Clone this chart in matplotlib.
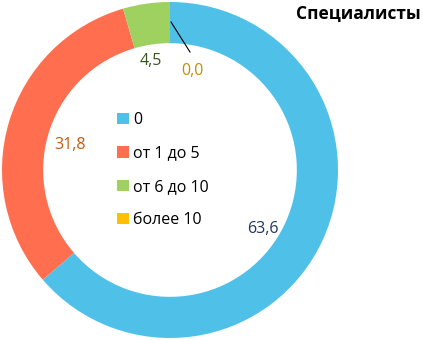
import matplotlib
matplotlib.use("Agg")
import matplotlib.pyplot as plt

# data
categories = ["0", "от 1 до 5", "от 6 до 10", "более 10"]
values = [63.6, 31.8, 4.5, 0.0]
colors = ["#4FC1E9", "#FF6F4F", "#9ED160", "#FFC000"]
label_colors = ["#1F3864", "#C55A11", "#375623", "#BF9000"]
title = "Специалисты"

plt.rcParams["font.family"] = ["Open Sans", "DejaVu Sans"]

W, H = 423, 340
fig = plt.figure(figsize=(W / 100, H / 100), dpi=100)
cx, cy, r = 170, 170, 168
ax = fig.add_axes([(cx - r) / W, (H - cy - r) / H, 2 * r / W, 2 * r / H])

wedges, _ = ax.pie(values, colors=colors, startangle=90, counterclock=False,
                   radius=1, wedgeprops=dict(width=0.245, edgecolor="none"))
ax.set_xlim(-1, 1)
ax.set_ylim(-1, 1)
ax.set_aspect("equal")
ax.axis("off")

# label positions (px in the picture)
label_px = [(263, 229), (70, 145), (151, 61), (192, 71)]
for v, (px, py), c in zip(values, label_px, label_colors):
    ax.text((px - cx) / r, (cy - py) / r, f"{v:.1f}".replace(".", ","),
            color=c, fontsize=11.5, ha="center", va="center")

# leader line for 0,0
ax.plot([(171 - cx) / r, (190 - cx) / r], [(cy - 22) / r, (cy - 52) / r],
        color="black", lw=0.8)

leg = fig.legend(wedges, categories, loc="upper left",
                 bbox_to_anchor=(103 / W, 1 - 98 / H), frameon=False,
                 fontsize=11.5, handlelength=0.7, handleheight=0.7,
                 handletextpad=0.3, labelspacing=1.08)

fig.text(421 / W, 1 - 14 / H, title, fontsize=12.5, fontweight="bold",
         ha="right", va="center")

fig.savefig("out.png", dpi=100)
